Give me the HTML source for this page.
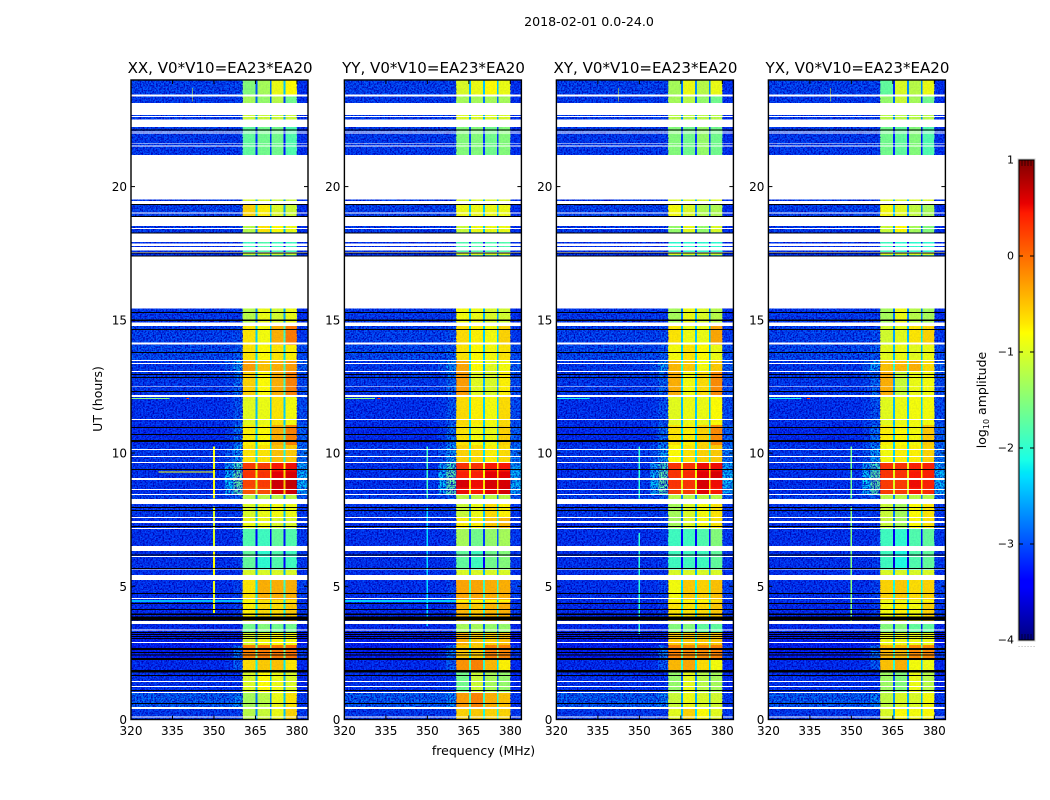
<!DOCTYPE html>
<html lang="en">
<head>
<meta charset="utf-8">
<title>2018-02-01 waterfall</title>
<style>
html,body{margin:0;padding:0;background:#fff;width:1050px;height:800px;overflow:hidden}
svg{display:block}
text{font-family:"DejaVu Sans","Liberation Sans",sans-serif;fill:#000}
</style>
</head>
<body>
<svg id="chart" xmlns="http://www.w3.org/2000/svg" width="1050" height="800" viewBox="0 0 1050 800">
  <defs>
    <linearGradient id="jet-gradient" x1="0" y1="1" x2="0" y2="0"></linearGradient>
    <filter id="noise-dark" x="0" y="0" width="100%" height="100%" color-interpolation-filters="sRGB">
      <feTurbulence type="fractalNoise" baseFrequency="0.62" numOctaves="2" seed="4"/>
      <feColorMatrix type="matrix" values="0 0 0 0 0  0 0 0 0 0  0 0 0 0 0.72  3.4 0 0 0 -1.3"/>
    </filter>
    <filter id="noise-light" x="0" y="0" width="100%" height="100%" color-interpolation-filters="sRGB">
      <feTurbulence type="fractalNoise" baseFrequency="0.62" numOctaves="2" seed="11"/>
      <feColorMatrix type="matrix" values="0 0 0 0 0  0 0 0 0 0.5  0 0 0 0 1  0 3.2 0 0 -1.5"/>
    </filter>
  </defs>
  <text x="589" y="26" font-size="12.6" text-anchor="middle">2018-02-01 0.0-24.0</text>
  <text x="483.5" y="755" font-size="12.5" text-anchor="middle">frequency (MHz)</text>
  <text transform="translate(102,399) rotate(-90)" font-size="12.5" text-anchor="middle">UT (hours)</text>
  <g id="panels"></g>
  <g id="colorbar"></g>
</svg>
<script>
/* ---- data ---- */
const panelTitles = ["XX, V0*V10=EA23*EA20", "YY, V0*V10=EA23*EA20", "XY, V0*V10=EA23*EA20", "YX, V0*V10=EA23*EA20"];
const freqTicks = [320, 335, 350, 365, 380];
const hourTicks = [0, 5, 10, 15, 20];
const colorTicks = [1, 0, -1, -2, -3, -4];

/* time-segment edges in hours */
const segmentEdges = [0, .43, 1.03, 1.78, 2.23, 2.8, 3.28, 3.58, 4.41, 4.48, 5.23, 5.61, 6.32, 7.19, 7.56, 8.09, 8.42, 8.7, 8.99, 9.3, 9.66, 10.3, 11.05, 12.14, 13.04, 13.49, 14.05, 14.76, 15.44, 17.43, 17.55, 17.92, 18.29, 18.89, 19.31, 19.53, 21.18, 22.23, 22.68, 23.13, 23.39, 24];

/* frequency columns in MHz */
const backgroundFreqEdges = [320, 350, 354, 357, 360.4];
const channelFreqEdges = [[360.4, 365.1], [365.7, 370.2], [370.8, 375.2], [375.8, 380]];
const gapFreqEdges = [[365.1, 365.7], [370.2, 370.8], [375.2, 375.8]];
const rightFreqEdges = [380, 384];

/* log10 amplitude per segment: four background columns, then the column right of the band */
const backgroundRows = [
[-3.0,-3.0,-3.0,-3.0,-3.0],[-2.8,-2.8,-2.8,-2.6,-3.0],[-3.05,-3.05,-3.05,-3.05,-3.1],[-3.1,-3.1,-3.05,-2.8,-3.1],
[-3.2,-3.2,-3.1,-2.7,-3.0],[-3.2,-3.2,-3.2,-3.2,-3.2],[-3.1,-3.1,-3.1,-3.1,-3.1],[-3.1,-3.1,-3.1,-3.0,-3.0],
[-3.05,-3.05,-3.05,-3.05,-3.05],[-3.05,-3.05,-3.05,-2.95,-2.95],[-3.05,-3.05,-3.05,-3.05,-3.05],[-3.05,-3.05,-3.05,-3.0,-3.0],[-3.05,-3.05,-3.05,-3.0,-3.0],
[-3.05,-3.05,-3.05,-3.0,-3.0],[-3.0,-3.0,-3.0,-3.0,-3.0],[-2.95,-2.95,-2.9,-2.8,-2.8],[-3.05,-3.0,-2.4,-1.8,-2.5],
[-3.05,-3.0,-2.3,-1.7,-2.4],[-3.05,-3.0,-2.3,-1.7,-2.4],[-3.05,-3.05,-2.5,-1.9,-2.5],[-3.0,-3.0,-2.85,-2.5,-2.7],
[-3.1,-3.1,-3.0,-2.7,-2.8],[-3.05,-3.05,-3.0,-2.85,-2.9],[-3.0,-3.0,-2.95,-2.75,-2.9],[-3.0,-3.0,-2.85,-2.5,-2.8],
[-2.9,-2.9,-2.9,-2.8,-2.9],[-2.95,-2.95,-2.95,-2.9,-3.0],[-3.0,-3.0,-3.0,-3.0,-3.05],[-3.05,-3.05,-3.05,-3.05,-3.05],
[-3.05,-3.05,-3.05,-3.05,-3.05],[-3.05,-3.05,-3.05,-3.05,-3.05],[-3.05,-3.05,-3.05,-3.05,-3.05],[-3.0,-3.0,-3.0,-3.0,-3.05],[-2.95,-2.95,-2.95,-2.95,-3.05],
[-3.0,-3.0,-3.0,-3.0,-3.05],[-3.05,-3.05,-3.05,-3.05,-3.05],[-3.0,-3.0,-3.0,-3.0,-3.05],[-3.0,-3.0,-3.0,-3.0,-3.05],
[-3.05,-3.05,-3.05,-3.05,-3.05],[-3.0,-3.0,-3.0,-3.0,-3.05],[-2.95,-2.95,-2.95,-2.95,-3.05]
];

/* log10 amplitude per segment for the four bright channels */
const channelsXX = [
[-1.2,-1.1,-.9,-.6],[-1.3,-1.2,-.9,-.7],[-1,-.8,-.9,-1],[-.65,-.55,-.5,-.7],[-.15,-.1,-.1,-.05],[-1,-.85,-.8,-.85],[-1.6,-1.5,-1.6,-1.6],[-.75,-.65,-.65,-.55],[-.8,-.7,-.7,-.7],
[-.7,-.4,-.4,-.4],[-1,-1,-1,-1],[-1.7,-2,-1.8,-1.9],[-1.8,-1.9,-1.7,-1.8],[-.9,-.9,-1,-1],[-1,-.9,-.85,-.9],[-1.2,-1.2,-1.2,-1.2],[.1,.15,.6,.65],
[.2,.25,.65,.7],[.3,.3,.55,.6],[.25,.25,.45,.5],[-.7,-.7,-.5,-.55],[-.75,-.8,-.4,-.15],[-.95,-.9,-.7,-.85],[-.6,-.8,-.4,-.15],[-.3,-.5,-.4,-.3],
[-.7,-.8,-.7,-.75],[-.7,-.85,-.4,-.1],[-1.2,-.9,-1.05,-.9],[-2,-2,-2,-2],[-1.1,-1.1,-1.1,-1.1],[-1.9,-1.8,-1.9,-1.9],[-1.5,-1.5,-1.5,-1.5],[-1.2,-.7,-.8,-.9],[-.6,-.75,-1,-1.1],
[-1,-1,-1.1,-1.1],[-2,-2,-2,-2],[-1.7,-1.6,-1.6,-1.8],[-1.1,-1.1,-1.1,-1.1],[-2,-2,-2,-2],[-1.3,-1.4,-1.2,-1.6],[-1.5,-1.3,-.9,-.8]
];
const channelsYY = [
[-.6,-.55,-.6,-.6],[-.3,-.15,-.4,-.5],[-1.6,-1.1,-1.3,-1.4],[-.25,-.15,-.45,-.75],[-.55,-.55,-.15,-.15],[-.4,-.55,-.6,-.5],[-1.3,-1.3,-1.4,-1.4],[-.45,-.55,-.45,-.4],[-.8,-.8,-.8,-.8],
[-.35,-.35,-.4,-.4],[-1,-1,-1,-1],[-1.7,-1.9,-1.6,-1.5],[-1.3,-1.6,-1.4,-1.3],[-.75,-.75,-.55,-.45],[-1.1,-.9,-.65,-.75],[-1.2,-1.2,-1.2,-1.2],[.5,.45,.55,.6],
[.6,.5,.6,.6],[.4,.4,.55,.55],[.3,.3,.45,.45],[-.6,-.65,-.75,-.65],[-.7,-.85,-.9,-.6],[-.65,-.75,-.85,-.65],[-.3,-.95,-1,-.75],[-.35,-.8,-.95,-.85],
[-.7,-.8,-.85,-.7],[-.65,-.75,-.85,-.6],[-.85,-.9,-1,-1.05],[-2,-2,-2,-2],[-1,-1,-1,-1],[-1.8,-1.8,-1.8,-1.8],[-1.5,-1.5,-1.5,-1.5],[-1.1,-.9,-.9,-.9],[-.9,-.9,-.9,-.9],
[-1,-1,-1,-1],[-2,-2,-2,-2],[-1.5,-1.5,-1.6,-1.5],[-1,-1,-1,-1],[-2,-2,-2,-2],[-1.3,-1.3,-1.3,-1.3],[-1,-.9,-.8,-.9]
];
const channelsXY = [
[-.95,-.6,-.8,-.95],[-1.1,-.9,-1,-1.05],[-1.4,-.95,-1.2,-1.3],[-.45,-.35,-.65,-.85],[-.15,-.2,-.2,-.15],[-.55,-.55,-.55,-.55],[-1.5,-1.5,-1.7,-1.7],[-.7,-.7,-.65,-.55],[-.8,-.8,-.8,-.7],
[-.85,-.55,-.6,-.5],[-1,-1,-1,-1],[-1.9,-1.9,-1.9,-1.7],[-1.9,-1.9,-1.8,-1.5],[-1.3,-1,-.85,-.7],[-1.3,-1,-.85,-.7],[-1.2,-1.2,-1.2,-1.2],[.25,.25,.55,.45],
[.3,.3,.6,.5],[.3,.35,.55,.6],[.3,.3,.5,.5],[-.8,-.7,-.6,-.55],[-.7,-.75,-.6,-.2],[-.95,-.9,-.9,-.8],[-.4,-.85,-.65,-.2],[-.45,-.55,-.85,-.55],
[-.85,-.7,-.8,-.9],[-.7,-.9,-.9,-.35],[-1.3,-.9,-1,-1.2],[-2,-2,-2,-2],[-1,-1,-1.1,-1.1],[-2,-2,-2,-2],[-1.5,-1.5,-1.5,-1.5],[-1.4,-.95,-1.4,-1],[-.85,-1,-1.25,-1.25],
[-1,-1,-1,-1],[-2,-2,-2,-2],[-1.5,-1.6,-1.4,-1.6],[-1.2,-1.2,-1.2,-1.2],[-2,-2,-2,-2],[-1.3,-1.2,-1.4,-1.6],[-1.3,-.9,-1.2,-.9]
];
const channelsYX = [
[-1,-.8,-.85,-.8],[-1.15,-1,-1,-.85],[-1.35,-1.5,-.9,-1.2],[-.5,-.4,-.85,-.9],[-.45,-.45,-.2,-.2],[-.9,-.9,-.9,-.9],[-1.5,-1.5,-1.7,-1.7],[-.85,-.75,-.85,-.6],[-.9,-.9,-.9,-.8],
[-.6,-.55,-.65,-.6],[-1,-1,-1,-1],[-1.9,-2.1,-1.8,-1.7],[-1.9,-2,-1.8,-1.7],[-1.1,-1.3,-.8,-.7],[-1.1,-1.3,-.8,-.7],[-1.2,-1.2,-1.2,-1.2],[.25,.25,.45,.35],
[.25,.25,.5,.4],[.3,.3,.45,.4],[.3,.3,.4,.4],[-.85,-.75,-.75,-.6],[-.75,-.8,-.85,-.55],[-.95,-.9,-.85,-.85],[-.4,-1.1,-.9,-.85],[-.5,-.45,-.4,-.65],
[-.95,-.9,-.95,-.9],[-1.05,-.95,-.7,-.6],[-1.3,-.9,-1.2,-1.3],[-2,-2,-2,-2],[-1,-1,-1,-1],[-1.9,-2,-2,-2],[-1.5,-1.5,-1.5,-1.5],[-1.1,-.8,-1.3,-1.5],[-.85,-.95,-1.15,-1.3],
[-1,-1,-1,-1],[-2,-2,-2,-2],[-1.6,-1.7,-1.5,-1.8],[-1.2,-1.2,-1.2,-1.2],[-2,-2,-2,-2],[-1.4,-1.1,-1.3,-1.6],[-1.7,-1,-1.2,-.9]
];

/* narrow interference: [freqStart, freqEnd, hourStart, hourEnd, log10 amplitude] */
const interferenceXX = [[320,360.4,4.41,4.48,-2.5],[349.7,350.3,4,5.2,-.9],[349.7,350.3,5.4,6.3,-.8],[349.7,350.3,6.5,8,-1],[349.7,350.3,8.3,10.25,-.85],[330,350,9.27,9.31,-.85],[320,334,12.02,12.06,-1.5],[340,341,12.02,12.06,.2],[342.2,342.5,23.2,23.7,-1]];
const interferenceYY = [[320,360.4,4.41,4.48,-2.4],[349.7,350.3,8.3,10.25,-1.9],[320,331,12.02,12.06,-1.5],[332,333,12.02,12.06,.3],[349.7,350.3,3.5,8,-2.3]];
const interferenceXY = [[349.7,350.3,3.2,7,-2],[349.7,350.3,8.3,10.25,-2],[342.2,342.5,23.2,23.7,-.9],[320,332,12.02,12.06,-2.2]];
const interferenceYX = [[349.7,350.3,3.6,8,-1.5],[349.7,350.3,8.3,10.25,-1.6],[342.2,342.5,23.2,23.7,-.9],[320,332,12.02,12.06,-2.2],[334,335,12.02,12.06,.3]];

/* flagged time ranges in hours */
const whiteRanges = [[.08,.11],[.39,.47],[.99,1.03],[1.22,1.26],[1.41,1.44],[2.87,2.91],[3.34,3.38],[3.58,3.7],[4.52,4.56],[5.23,5.42],[5.61,5.63],[6.1,6.14],[6.32,6.51],[7.15,7.19],[7.37,7.45],[7.56,7.6],[8.09,8.27],[8.42,8.46],[8.61,8.65],[8.99,9.06],[9.62,9.66],[9.85,9.89],[10.11,10.15],[11.24,11.28],[12.1,12.18],[12.48,12.5],[13.04,13.08],[13.34,13.37],[13.45,13.49],[14.05,14.08],[14.1,14.14],[14.77,14.89],[15.43,17.37],[17.53,17.55],[17.61,17.73],[17.77,17.86],[17.92,18.24],[18.41,18.44],[18.52,18.85],[18.99,19.03],[19.34,19.46],[19.52,21.19],[21.51,21.55],[21.61,21.64],[22,22.03],[22.06,22.09],[22.24,22.5],[22.52,22.54],[22.62,22.65],[22.68,23.14],[23.38,23.45]];
const blackRanges = [[.58,.62],[1.07,1.11],[1.63,1.67],[1.76,1.86],[2.23,2.31],[2.4,2.44],[2.5,2.53],[2.61,2.68],[3.02,3.06],[3.1,3.13],[3.17,3.21],[3.25,3.28],[3.71,3.86],[3.92,3.98],[4.11,4.15],[4.33,4.37],[4.71,4.75],[5.65,5.68],[6.15,6.19],[7.22,7.26],[7.82,7.86],[7.94,7.97],[9.36,9.4],[10.41,10.49],[10.68,10.71],[10.94,10.98],[12.29,12.33],[12.81,12.85],[12.93,12.96],[13.75,13.79],[14.62,14.65],[14.96,15.02],[15.25,15.29],[17.37,17.42],[17.49,17.53],[18.24,18.27],[18.85,18.89],[19.31,19.34],[22.11,22.15]];

/* colormap stops: [position, red, green, blue] */
const jetStops = [[0,0,0,.5],[.11,0,0,1],[.125,0,0,1],[.34,0,.875,1],[.35,0,.91,.97],[.375,.1,1,.9],[.64,1,1,0],[.66,1,.91,0],[.89,1,.1,0],[.91,.91,0,0],[1,.5,0,0]];

const panelChannels = [channelsXX, channelsYY, channelsXY, channelsYX];
const panelInterference = [interferenceXX, interferenceYY, interferenceXY, interferenceYX];
const panelKeys = ["xx", "yy", "xy", "yx"];

/* ---- layout ---- */
const SVGNS = "http://www.w3.org/2000/svg";
const panelLefts = [131, 344.4, 556.4, 768.4];
const panelWidth = 177;
const plotTop = 80, plotBottom = 719.5;
const freqMin = 320, freqMax = 384, hourMin = 0, hourMax = 24;
const valueMin = -4, valueMax = 1;
const cbLeft = 1019, cbWidth = 15, cbTop = 160, cbBottom = 640;

const yScale = h => plotBottom - (h - hourMin) / (hourMax - hourMin) * (plotBottom - plotTop);
const xScale = (p, f) => panelLefts[p] + (f - freqMin) / (freqMax - freqMin) * panelWidth;
const cbScale = v => cbBottom - (v - valueMin) / (valueMax - valueMin) * (cbBottom - cbTop);

function jet(v) {
  const t = Math.max(0, Math.min(1, (v - valueMin) / (valueMax - valueMin)));
  let i = 0;
  while (i < jetStops.length - 2 && t > jetStops[i + 1][0]) i++;
  const a = jetStops[i], b = jetStops[i + 1], u = (t - a[0]) / (b[0] - a[0]);
  const ch = k => Math.round(255 * (a[k] + (b[k] - a[k]) * u));
  return "rgb(" + ch(1) + "," + ch(2) + "," + ch(3) + ")";
}
function svgEl(tag, parent) {
  const el = document.createElementNS(SVGNS, tag);
  parent.appendChild(el);
  return el;
}
function setAll(el, attrs) {
  for (const k in attrs) el.setAttribute(k, attrs[k]);
  return el;
}
function cellRect(parent, p, f0, f1, h0, h1, fill) {
  const r = svgEl("rect", parent);
  setAll(r, { x: xScale(p, f0), y: yScale(h1), width: xScale(p, f1) - xScale(p, f0), height: yScale(h0) - yScale(h1), fill: fill, "shape-rendering": "crispEdges" });
  return r;
}

const panelsRoot = document.getElementById("panels");
panelTitles.forEach((title, p) => {
  const g = svgEl("g", panelsRoot);
  
  
  const clipId = "clip-" + panelKeys[p];
  const clip = svgEl("clipPath", g);
  clip.setAttribute("id", clipId);
  setAll(svgEl("rect", clip), { x: panelLefts[p], y: plotTop, width: panelWidth, height: plotBottom - plotTop });

  const heat = svgEl("g", g);
  heat.setAttribute("clip-path", "url(#" + clipId + ")");
  
  

  /* heat cells */
  for (let s = 0; s < segmentEdges.length - 1; s++) {
    const h0 = segmentEdges[s], h1 = segmentEdges[s + 1];
    const bg = backgroundRows[s], chans = panelChannels[p][s];
    for (let c = 0; c < backgroundFreqEdges.length - 1; c++) {
      const cell = cellRect(heat, p, backgroundFreqEdges[c], backgroundFreqEdges[c + 1], h0, h1, jet(bg[c]));
      
      
    }
    const right = cellRect(heat, p, rightFreqEdges[0], rightFreqEdges[1], h0, h1, jet(bg[4]));
    
    
    channelFreqEdges.forEach((edges, c) => {
      const cell = cellRect(heat, p, edges[0], edges[1], h0, h1, jet(chans[c]));
      
      
    });
    gapFreqEdges.forEach((edges, c) => {
      const low = Math.min(chans[c], chans[c + 1]);
      const gapLevel = low - (low < 0 ? 1.5 : 1.2);
      const cell = cellRect(heat, p, edges[0], edges[1], h0, h1, jet(gapLevel));
      
      
    });
  }

  /* speckle texture */
  [["#noise-dark", 1, freqMin, 360.4], ["#noise-light", .3, freqMin, 360.4], ["#noise-dark", .8, 380, 384], ["#noise-dark", .06, 360.4, 380]].forEach(spec => {
    const n = svgEl("rect", heat);
    setAll(n, { x: xScale(p, spec[2]), y: plotTop, width: xScale(p, spec[3]) - xScale(p, spec[2]), height: plotBottom - plotTop, filter: "url(" + spec[0] + ")", opacity: spec[1] });
    
    
  });

  /* interference */
  panelInterference[p].forEach(item => {
    const r = cellRect(heat, p, item[0], item[1], item[2], item[3], jet(item[4]));
    
    
  });

  /* flagged rows */
  whiteRanges.forEach(range => {
    const r = cellRect(heat, p, freqMin, freqMax, range[0], range[1], "#fff");
    
    
  });
  blackRanges.forEach(range => {
    const r = cellRect(heat, p, freqMin, freqMax, range[0], range[1], "#000");
    
    
  });

  /* frame */
  const frame = svgEl("rect", g);
  setAll(frame, { x: panelLefts[p], y: plotTop, width: panelWidth, height: plotBottom - plotTop, fill: "none", stroke: "#000", "stroke-width": 1.4 });
  
  

  /* x ticks */
  freqTicks.forEach(f => {
    const x = xScale(p, f);
    [[plotBottom, plotBottom - 4], [plotTop, plotTop + 4]].forEach(seg => {
      const t = svgEl("line", g);
      setAll(t, { x1: x, x2: x, y1: seg[0], y2: seg[1], stroke: "#000", "stroke-width": 1 });
      
      
    });
    const label = svgEl("text", g);
    setAll(label, { x: x, y: 735, "font-size": 12, "text-anchor": "middle" });
    label.textContent = f;
    
    
  });

  /* y ticks */
  hourTicks.forEach(h => {
    const y = yScale(h);
    [[panelLefts[p], panelLefts[p] + 4], [panelLefts[p] + panelWidth, panelLefts[p] + panelWidth - 4]].forEach(seg => {
      const t = svgEl("line", g);
      setAll(t, { x1: seg[0], x2: seg[1], y1: y, y2: y, stroke: "#000", "stroke-width": 1 });
      
      
    });
    const label = svgEl("text", g);
    setAll(label, { x: panelLefts[p] - 4, y: y + 4.5, "font-size": 12, "text-anchor": "end" });
    label.textContent = h;
    
    
  });

  /* title */
  const titleEl = svgEl("text", g);
  setAll(titleEl, { x: panelLefts[p] + panelWidth / 2 + .6, y: 73, "font-size": 15.05, "text-anchor": "middle" });
  titleEl.textContent = title;
  
  
});

/* ---- colorbar ---- */
const gradient = document.getElementById("jet-gradient");
jetStops.forEach(stop => {
  const s = svgEl("stop", gradient);
  s.setAttribute("offset", stop[0]);
  s.setAttribute("stop-color", "rgb(" + Math.round(stop[1] * 255) + "," + Math.round(stop[2] * 255) + "," + Math.round(stop[3] * 255) + ")");
});
const cbRoot = document.getElementById("colorbar");
const cbHalo = svgEl("rect", cbRoot);
setAll(cbHalo, { x: cbLeft - 1, y: cbTop - 1, width: cbWidth + 2, height: cbBottom - cbTop + 2, fill: "none", stroke: "#ccc", "stroke-width": 1 });


const cbBar = svgEl("rect", cbRoot);
setAll(cbBar, { x: cbLeft, y: cbTop, width: cbWidth, height: cbBottom - cbTop, fill: "url(#jet-gradient)", stroke: "#000", "stroke-width": 1 });


colorTicks.forEach(v => {
  const y = cbScale(v);
  [[cbLeft, cbLeft + 4], [cbLeft + cbWidth, cbLeft + cbWidth - 4]].forEach(seg => {
    const t = svgEl("line", cbRoot);
    setAll(t, { x1: seg[0], x2: seg[1], y1: y, y2: y, stroke: "#000", "stroke-width": 1 });
    
    
  });
  const label = svgEl("text", cbRoot);
  setAll(label, { x: cbLeft - 5, y: y + 3.5, "font-size": 11, "text-anchor": "end" });
  label.textContent = v < 0 ? "\u2212" + Math.abs(v) : String(v);
  
  
});
for (let i = 0; i <= 5; i++) {
  const x = cbLeft + i * cbWidth / 5;
  [[cbTop, cbTop + 6], [cbBottom, cbBottom - 6]].forEach(seg => {
    const t = svgEl("line", cbRoot);
    setAll(t, { x1: x, x2: x, y1: seg[0], y2: seg[1], stroke: "#000", "stroke-width": .6 });
    
    
  });
  const dot = svgEl("text", cbRoot);
  setAll(dot, { x: x, y: 647, "font-size": 5, "text-anchor": "middle", fill: "#888" });
  dot.textContent = ".";
  
  
}
const cbTitle = svgEl("text", cbRoot);
setAll(cbTitle, { transform: "translate(986,400) rotate(-90)", "font-size": 12.5, "text-anchor": "middle" });


cbTitle.appendChild(document.createTextNode("log"));
const cbSub = svgEl("tspan", cbTitle);
setAll(cbSub, { "font-size": 8, dy: 3 });
cbSub.textContent = "10";
const cbRest = svgEl("tspan", cbTitle);
cbRest.setAttribute("dy", -3);
cbRest.textContent = " amplitude";
</script>
</body>
</html>
